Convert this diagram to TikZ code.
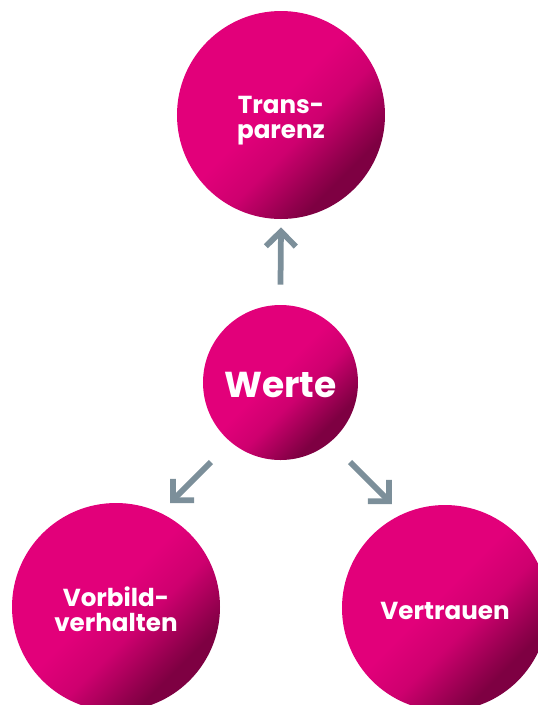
\documentclass[tikz,border=0pt]{standalone}
\usepackage{fontspec}
\setmainfont{Poppins}
\usepackage{tikz}
\usetikzlibrary{arrows.meta}

\definecolor{wmag}{HTML}{E2007A}
\definecolor{wdark}{HTML}{7E0042}
\definecolor{warrow}{HTML}{7C8F9A}
\pgfdeclarehorizontalshading{ball}{100bp}{color(0bp)=(wmag); color(47bp)=(wmag); color(57bp)=(wmag!80!wdark); color(71bp)=(wdark); color(100bp)=(wdark)}

\begin{document}
\begin{tikzpicture}[
    ball/.style={circle, shading=ball, shading angle=-45, inner sep=0pt},
    txt/.style={text=white, font=\bfseries\fontsize{14}{14.2}\selectfont,
      align=center, inner sep=0pt},
    arr/.style={draw=warrow, line width=0.115cm,
      -{Straight Barb[length=0.3cm, width=0.6cm]}}
  ]

    \useasboundingbox (0,0) rectangle (10.76,-14.10);

    \node[ball, minimum size=4.16cm,
      label={[txt, yshift=-0.12cm]center:{Trans-\\parenz}}] (trans) at (5.62,-2.30) {};

    \node[ball, minimum size=3.10cm,
      label={[txt, yshift=-0.05cm, font=\bfseries\fontsize{20.5}{22}\selectfont]center:Werte}] (werte) at (5.61,-7.65) {};

    \node[ball, minimum size=4.16cm,
      label={[txt, yshift=-0.05cm]center:{Vorbild-\\verhalten}}] (vorbild) at (2.32,-12.14) {};

    \node[ball, minimum size=4.12cm,
      label={[txt, yshift=-0.05cm]center:Vertrauen}] (vertrauen) at (8.90,-12.16) {};



    \draw[arr] ([yshift=0.4cm]werte.north) -- ([yshift=-0.16cm]trans.south);

    \draw[arr] ([shift={(-1.39,-1.59)}]werte.center) -- ([shift={(1.08,2.08)}]vorbild.center);

    \draw[arr] ([shift={(1.39,-1.59)}]werte.center) -- ([shift={(-1.06,2.08)}]vertrauen.center);

  \end{tikzpicture}
\end{document}
